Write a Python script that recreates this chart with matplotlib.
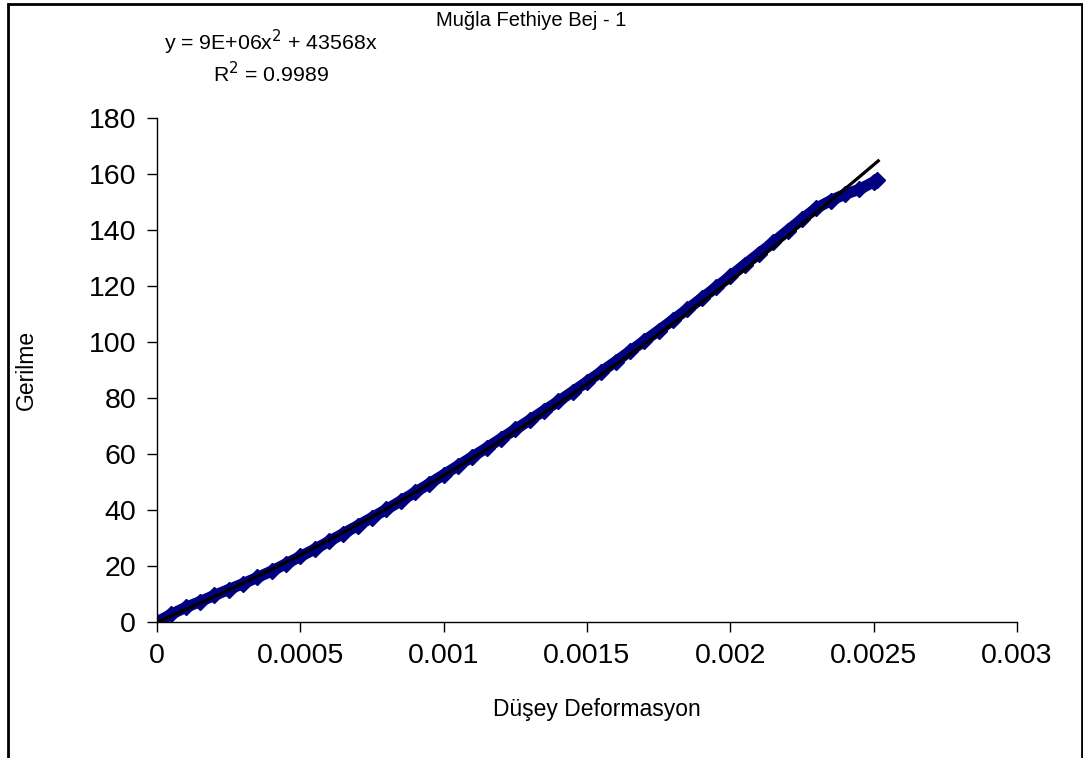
import numpy as np
import matplotlib
matplotlib.use("Agg")
import matplotlib.pyplot as plt
from matplotlib.patches import Rectangle

plt.rcParams['font.family'] = ['Liberation Sans', 'DejaVu Sans']

# strain (Düşey Deformasyon) vs stress (Gerilme)
deformasyon = [0, 0.00005, 0.0001, 0.00015, 0.0002, 0.00025, 0.0003, 0.00035, 0.0004, 0.00045,
               0.0005, 0.00055, 0.0006, 0.00065, 0.0007, 0.00075, 0.0008, 0.00085, 0.0009, 0.00095,
               0.001, 0.00105, 0.0011, 0.00115, 0.0012, 0.00125, 0.0013, 0.00135, 0.0014, 0.00145,
               0.0015, 0.00155, 0.0016, 0.00165, 0.0017, 0.00175, 0.0018, 0.00185, 0.0019, 0.00195,
               0.002, 0.00205, 0.0021, 0.00215, 0.0022, 0.00225, 0.0023, 0.00235, 0.0024, 0.00245,
               0.0025, 0.00251]
gerilme = [0, 2.8, 5.2, 7.3, 9.5, 11.6, 13.7, 15.9, 18.2, 20.8,
           23.4, 26.0, 28.8, 31.6, 34.4, 37.3, 40.2, 43.2, 46.3, 49.4,
           52.6, 55.8, 59.0, 62.2, 65.5, 68.8, 72.1, 75.5, 78.8, 82.3,
           85.8, 89.4, 93.0, 96.7, 100.4, 104.1, 107.9, 111.7, 115.6, 119.5,
           123.5, 127.6, 131.6, 135.6, 139.8, 143.9, 147.8, 150.5, 152.8, 154.5,
           157.2, 158.0]

# polynomial trendline (printed as 9E+06x^2 + 43568x, leading term rounded)
trend_coef = [8.7e6, 43568, 0]
trend_end = 0.002516

x_ticks = [0, 0.0005, 0.001, 0.0015, 0.002, 0.0025, 0.003]
y_ticks = [0, 20, 40, 60, 80, 100, 120, 140, 160, 180]

fig = plt.figure(figsize=(10.83, 7.58), dpi=100)
ax = fig.add_axes([157 / 1083, 1 - 622 / 758, (1017 - 157) / 1083, (622 - 118) / 758])

ax.plot(deformasyon, gerilme, color='#000080', lw=8, marker='D', ms=8,
        markeredgecolor='#000080', solid_capstyle='butt', zorder=2)

xt = np.linspace(0, trend_end, 200)
ax.plot(xt, np.polyval(trend_coef, xt), color='black', lw=2.3, zorder=3)

ax.set_xlim(0, 0.003)
ax.set_ylim(0, 180)
ax.set_xticks(x_ticks)
ax.set_xticklabels(['{:g}'.format(v) for v in x_ticks])
ax.set_yticks(y_ticks)
for s in ['top', 'right']:
    ax.spines[s].set_visible(False)
for s in ['left', 'bottom']:
    ax.spines[s].set_linewidth(1.0)
    ax.spines[s].set_clip_on(False)
ax.tick_params(direction='out', length=7, width=1, labelsize=20.5, pad=8)
ax.set_xlabel('Düşey Deformasyon', fontsize=16.5)
ax.set_ylabel('Gerilme', fontsize=16.5)
ax.xaxis.set_label_coords(0.512, -0.151)
ax.yaxis.set_label_coords(-0.138, 0.5)

fig.text(531 / 1083, 1 - 20 / 758, 'Muğla Fethiye Bej - 1', fontsize=14.5, ha='center', va='center')
fig.text(271 / 1083, 1 - 42 / 758, 'y = 9E+06x$^2$ + 43568x', fontsize=15.3, ha='center', va='center')
fig.text(271 / 1083, 1 - 74 / 758, 'R$^2$ = 0.9989', fontsize=15.3, ha='center', va='center')

fig.add_artist(Rectangle((7.5 / 1083, -0.05), (1082 - 7.5) / 1083, 1.05 - 4 / 758,
                         transform=fig.transFigure, fill=False, lw=2, ec='black', clip_on=False))

fig.savefig('out.png', dpi=100)
